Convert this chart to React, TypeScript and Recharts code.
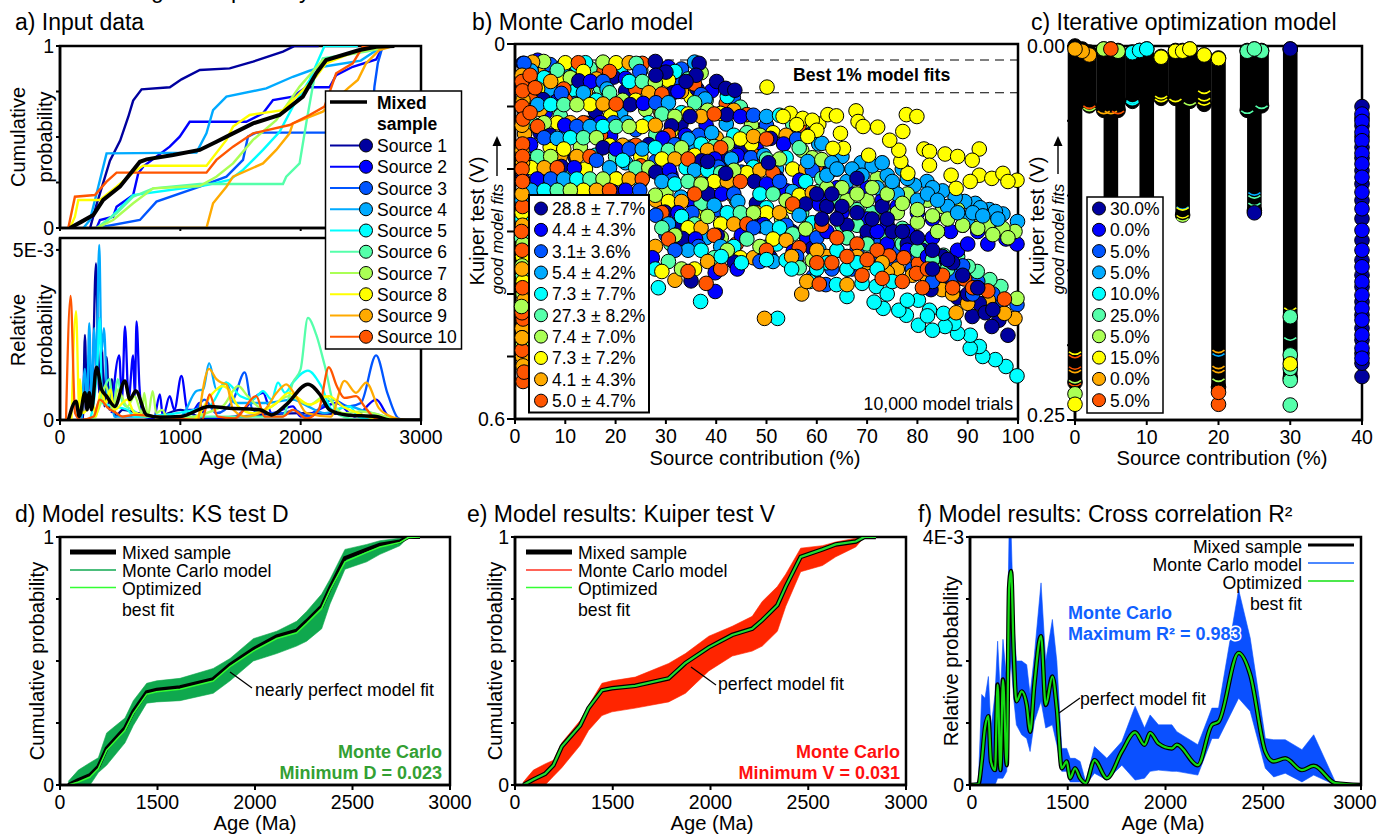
import React from 'react';
import {
  Area, ComposedChart, Line, ReferenceArea, ReferenceLine, Scatter, ScatterChart, XAxis, YAxis,
} from 'recharts';

const FONT = '"Liberation Sans", Arial, sans-serif';

const sourceColors = ['#00009f', '#0000ff', '#0055ff', '#00aaff', '#00ffff', '#55ffaa', '#aaff55', '#ffff00', '#ffaa00', '#ff5500'];
const sourceNames = ['Source 1', 'Source 2', 'Source 3', 'Source 4', 'Source 5', 'Source 6', 'Source 7', 'Source 8', 'Source 9', 'Source 10'];
const mcLegend = ['28.8 ± 7.7%', '4.4 ± 4.3%', '3.1± 3.6%', '5.4 ± 4.2%', '7.3 ± 7.7%', '27.3 ± 8.2%', '7.4 ± 7.0%', '7.3 ± 7.2%', '4.1 ± 4.3%', '5.0 ± 4.7%'];
const optLegend = ['30.0%', '0.0%', '5.0%', '5.0%', '10.0%', '25.0%', '5.0%', '15.0%', '0.0%', '5.0%'];

// a) cumulative curves [age, probability]
const cum1 = [[250,0],[300,.12],[415,.37],[500,.48],[567,.61],[608,.7],[678,.762],[913,.773],[1010,.817],[1162,.868],[1410,.877],[1604,.914],[1853,.969],[1950,1],[2150,1]];
const cum2 = [[304,0],[332,.044],[442,.062],[470,.117],[608,.181],[650,.3],[691,.337],[912,.447],[995,.502],[1078,.584],[1548,.584],[1687,.63],[1770,.703],[1935,.722],[2046,.773],[2240,.773],[2295,.84],[2433,.886],[2627,.926],[2682,.996],[2765,1]];
const cum3 = [[304,0],[664,.044],[802,.145],[1161,.227],[1383,.282],[1521,.374],[1562,.502],[1631,.524],[2585,.524],[2613,.777],[2641,.905],[2682,1],[2765,1]];
const cum4 = [[194,0],[249,.044],[318,.227],[387,.41],[1134,.414],[1217,.52],[1272,.648],[1383,.722],[1714,.767],[1935,.831],[2074,.864],[2184,.886],[2500,.92],[2682,1],[2765,1]];
const cum5 = [[332,0],[608,.181],[1217,.236],[1410,.264],[1521,.319],[1687,.429],[1825,.529],[1935,.667],[2074,.813],[2198,1],[2475,1]];
const cum6 = [[304,0],[470,.081],[608,.172],[774,.218],[1161,.242],[1853,.242],[1880,.282],[1991,.355],[2046,.575],[2115,.832],[2184,.932],[2544,.969],[2765,1]];
const cum7 = [[304,0],[442,.044],[608,.136],[774,.218],[1161,.231],[1299,.282],[1438,.355],[1604,.484],[1797,.593],[1991,.777],[2184,.923],[2544,.974],[2765,1]];
const cum8 = [[83,0],[124,.062],[152,.154],[332,.154],[470,.227],[636,.319],[691,.342],[1217,.342],[1383,.484],[1438,.557],[1576,.621],[1853,.648],[1963,.722],[2129,.832],[2212,.905],[2516,.987],[2765,1]];
const cum9 = [[300,0],[1217,0],[1272,.136],[1383,.227],[1438,.282],[1687,.355],[1797,.429],[1908,.52],[1935,.575],[2184,.639],[2392,.767],[2475,.813],[2544,.905],[2654,.978],[2765,1]];
const cum10 = [[69,0],[124,.172],[290,.181],[387,.255],[470,.304],[1217,.304],[1300,.374],[1438,.447],[1604,.52],[1908,.566],[2074,.621],[2198,.667],[2295,.85],[2433,.905],[2516,.996],[2765,1]];
const cumMixed = [[83,0],[180,.035],[277,.071],[359,.154],[498,.227],[664,.364],[719,.377],[940,.401],[1161,.429],[1300,.474],[1438,.52],[1604,.575],[1825,.621],[2018,.722],[2129,.85],[2212,.923],[2489,.978],[2627,.996],[2779,1]];

// a) relative probability [age, value in 1E-3]
const rel1 = [[150,0],[190,0],[207,2.5],[225,.3],[243,2],[262,.3],[299,4.6],[325,.8],[345,2.2],[370,.4],[387,1.85],[410,.3],[430,1.2],[460,.1],[520,.3],[650,.2],[800,.1],[1000,.3],[1200,.05],[2000,.2],[2600,.1],[2800,0]];
const rel2 = [[430,.2],[492,1.9],[515,.6],[540,2.75],[570,.6],[608,1.9],[622,.7],[636,2.9],[660,1],[690,.1],[780,.05],[830,.75],[855,.1],[912,.7],[950,.3],[1009,1.3],[1060,.3],[1110,.3],[1160,.5],[1210,.05],[1450,.1],[1687,.8],[1760,.2],[1935,.4],[2000,.1],[2300,.5],[2450,.1],[2627,.6],[2730,.1],[2800,0]];
const rel3 = [[1000,0],[1060,.3],[1100,.2],[1200,.6],[1300,.2],[1440,.6],[1535,1.4],[1600,.3],[1700,.2],[1850,.2],[1950,.3],[2050,.1],[2267,.6],[2400,.4],[2500,.5],[2627,1.9],[2720,.8],[2810,.05],[2850,0]];
const rel4 = [[180,0],[207,1.5],[225,.4],[243,2.85],[262,.7],[285,2.7],[300,1.4],[326,5.15],[345,2],[365,2.7],[395,.6],[420,1],[450,.1],[1000,.1],[1134,.85],[1190,.9],[1239,1.67],[1300,.9],[1383,1.1],[1450,.5],[1700,.5],[1935,.6],[2060,.4],[2200,.2],[2405,.4],[2500,.3],[2700,.1],[2800,0]];
const rel5 = [[250,0],[310,1.6],[330,3],[350,.5],[450,.4],[560,.3],[620,.1],[1239,.4],[1383,1.1],[1500,.7],[1600,.6],[1687,.85],[1760,.6],[1811,1.1],[1870,.8],[1935,1.1],[2060,1.45],[2170,1],[2265,.3],[2405,.4],[2480,.1],[2600,0]];
const rel6 = [[270,0],[330,.6],[415,1.2],[440,.3],[480,1.2],[520,.5],[600,.3],[700,.1],[1850,.1],[1935,1.1],[2000,1.5],[2060,3],[2130,2.5],[2200,1.6],[2300,.2],[2400,.05],[2500,0]];
const rel7 = [[280,0],[340,.5],[380,1],[440,.3],[480,.9],[560,.4],[620,.7],[680,.2],[700,.8],[730,.1],[770,.85],[800,.2],[850,.3],[900,0],[1350,.4],[1480,1],[1560,.7],[1700,.3],[1900,.7],[2074,.45],[2200,.7],[2350,.2],[2500,.25],[2600,.2],[2700,.1],[2800,0]];
const rel8 = [[95,0],[133,3.2],[160,.3],[166,1.2],[190,.2],[270,.5],[300,.1],[340,.9],[380,.5],[420,.9],[450,.3],[560,.6],[620,.2],[1100,0],[1272,.8],[1350,1],[1400,.9],[1480,.4],[1600,.2],[1800,.5],[1900,.8],[2074,.45],[2234,.7],[2350,.4],[2480,.2],[2600,.05],[2700,0]];
const rel9 = [[1150,0],[1239,1.5],[1300,1.2],[1340,1.1],[1383,1.05],[1440,.3],[1550,.1],[1700,.3],[1800,.8],[1880,1.05],[1960,.7],[2050,.2],[2250,.1],[2364,1.15],[2460,.8],[2544,1.1],[2650,.35],[2750,.1],[2870,0]];
const rel10 = [[50,0],[88,3.65],[125,.2],[170,0],[280,.1],[330,.6],[400,.35],[470,.2],[520,.1],[620,.15],[1180,0],[1244,.75],[1310,.1],[1450,.05],[1631,.7],[1700,.1],[1850,.1],[1935,.3],[2050,.05],[2150,.3],[2234,1.55],[2300,1],[2364,.65],[2461,.7],[2530,.4],[2620,.05],[2700,0]];
const relMixed = [[70,0],[133,.55],[160,.1],[207,.8],[225,.3],[243,.8],[262,.3],[304,1.55],[345,.9],[387,.7],[456,.4],[539,1.15],[580,.6],[630,.85],[719,.15],[830,.08],[1000,.1],[1244,.4],[1383,.35],[1660,.3],[1760,.15],[1880,.45],[2060,1.05],[2160,.75],[2240,.3],[2380,.15],[2627,.1],[2740,0],[3000,0]];

// b) Monte Carlo trials [contribution %, Kuiper V]
const mc1 = [[8,.045],[22,.075],[16,.108],[33,.128],[5,.142],[45,.165],[12,.182],[26,.205],[38,.225],[48,.255],[33,.29],[55,.3],
  [1.6,.031],[27.9,.028],[19.6,.053],[12.7,.059],[36.2,.072],[5.6,.089],[31.4,.078],[22.9,.097],[14.4,.127],[42.1,.113],[7,.146],[31.1,.131],[58.9,.144],[26.6,.161],[50.8,.151],[17.5,.166],[41.7,.183],[9.2,.196],[37.1,.187],[1.5,.216],[28,.205],[52.1,.214],[19.4,.236],[47.6,.22],[38.4,.24],[29.8,.269],[57.8,.256],[48.7,.291],[40.2,.306],[33.3,.311],[59.1,.327],[50.7,.341],[43.6,.349],[35,.379],
  [36.6,.031],[36,.05],[30,.045],[28,.05],[34,.06],[40.1,.06],[41.9,.071],[43.7,.074],[34.8,.116],[50.4,.19],[41.9,.207],[38.3,.188],[62.5,.204],
  [98,.466],[96.2,.442],[94.8,.452],[92.3,.415],[90.9,.436],[88,.406],[82.7,.393],[90,.4],[93.5,.43],[86,.37],[85,.34],[81,.33],[78,.32],[75,.3],[70,.3],[66,.29],[62,.26],[73,.26],[68,.215],[87,.35],[83,.36],
  [60,.24],[63,.24],[65,.26],[68,.27],[71,.28],[74,.28],[77,.3],[80,.31],[83,.33],[86,.345],[89,.37],[92,.39],[95,.425],[61,.28],[64,.28]];
const mc2 = [[12,.04],[28,.073],[6,.11],[38,.13],[19,.147],[48,.168],[7,.185],[31,.21],[54,.235],[35,.25],[44,.285],[58,.31],
  [4.5,.026],[30.5,.037],[22,.055],[15,.06],[39.1,.075],[8.4,.091],[32.4,.076],[25.5,.095],[17,.126],[44.8,.116],[9.9,.13],[33.9,.146],[3.1,.161],[29.4,.151],[53.4,.16],[20.1,.168],[44.2,.178],[11.8,.198],[39.7,.184],[4.4,.216],[30.7,.202],[56.6,.218],[22,.234],[50,.224],[41.1,.24],[32.4,.27],[60.5,.256],[49.4,.289],[45,.306],[35.9,.312],[27.3,.342],[55.3,.332],[44.2,.36],[39.8,.366],
  [99.8,.32],[97.6,.312],[95.1,.301],[86.6,.3],[92,.3],[89,.29],[83,.28],[80,.27],[76,.26],[73,.25],[70,.23],[67,.24],[64,.23],[61,.24],[78,.3],[74,.29],[70,.28],[65,.27],[83,.31],[88,.33],[39.8,.396],
  [62,.3],[66,.31],[70,.31],[74,.32],[78,.33],[82,.34],[86,.35],[72,.3],[90,.32],[94,.32]];
const mc3 = [[15,.043],[33,.065],[12,.095],[24,.137],[50,.13],[3,.172],[28,.188],[45,.205],[16,.222],[40,.265],[30,.305],[50,.325],
  [7,.033],[33.1,.04],[24.8,.044],[17.5,.06],[43.4,.086],[9.2,.079],[37,.081],[1.9,.107],[28,.094],[19.6,.126],[47.4,.114],[12.3,.132],[36.5,.146],[5.8,.15],[31.8,.161],[56,.152],[22.7,.168],[46.9,.182],[16.2,.186],[40.4,.197],[7.1,.216],[31.3,.218],[59.1,.202],[24.8,.234],[52.6,.22],[43.5,.24],[35.2,.27],[1.7,.288],[28,.274],[53.9,.29],[47.4,.294],[36.5,.324],[31.8,.33],[56,.34],[48.7,.348],[1.8,.031],
  [99.8,.417],[97,.41],[95,.4],[92,.38],[89,.375],[86,.385],[83,.345],[80,.34],[76,.33],[72,.32],[68,.33],[64,.33],[60,.31],[59.3,.372],[61.8,.385],[89,.355],
  [63,.36],[67,.36],[71,.35],[75,.35],[79,.36],[83,.38],[87,.37],[91,.4]];
const mc4 = [[18,.04],[7,.072],[21,.11],[42,.128],[10,.145],[36,.165],[22,.19],[52,.2],[12,.24],[33,.245],[46,.275],[38,.31],
  [9.7,.034],[35.7,.029],[3.2,.043],[29.2,.055],[18.3,.072],[13.6,.078],[37.8,.088],[4.5,.097],[30.5,.094],[22.2,.126],[50,.116],[14.9,.132],[39.1,.142],[8.4,.151],[34.4,.152],[60.4,.16],[25.3,.168],[49.5,.178],[18.8,.198],[43,.184],[9.7,.216],[35.7,.202],[3.2,.234],[29.2,.22],[55.2,.236],[44.3,.252],[39.6,.258],[30.5,.288],[56.5,.274],[50,.294],[40.9,.324],[34.4,.33],[60.4,.328],[51.3,.348],[1.4,.25],
  [99.9,.284],[94.3,.265],[91.5,.255],[89.4,.252],[81.9,.22],[79.4,.226],[68.8,.19],[61,.159],[58.2,.188],[97,.272],[95.5,.268],[92.5,.262],[87.5,.245],[85,.235],[83,.23],[77,.2],[74,.21],[71,.195],[65,.18],[63,.19],[76,.24],[72,.23],[66,.22],[86,.26],[80,.25],[90,.28],
  [62,.21],[64,.2],[67,.2],[69,.21],[73,.19],[75,.22],[78,.215],[82,.24],[84,.25],[88,.27],[91,.27],[93,.275],[96,.28]];
const mc5 = [[21,.045],[12,.075],[30,.105],[4,.13],[47,.15],[16,.178],[34,.198],[6,.225],[25,.22],[50,.262],[35,.295],[52,.32],
  [12.3,.034],[14,.03],[5.8,.054],[31.8,.044],[22.7,.06],[16.2,.09],[42.2,.084],[7.1,.097],[33.1,.11],[26.6,.126],[52.6,.114],[17.5,.132],[43.5,.146],[11,.15],[37,.16],[1.9,.18],[27.9,.166],[53.9,.182],[21.4,.186],[47.4,.197],[12.3,.216],[38.3,.202],[5.8,.234],[31.8,.224],[57.8,.22],[48.7,.24],[42.2,.27],[33.1,.276],[59.1,.286],[52.6,.294],[43.5,.324],[37,.33],[27.9,.36],[53.9,.346],[1.4,.28],
  [99.8,.531],[97.6,.516],[95.5,.505],[93,.5],[92.3,.484],[90.5,.487],[90.5,.466],[88,.463],[87.3,.447],[85.5,.452],[83,.458],[85.2,.431],[82.4,.426],[80.2,.45],[80.2,.41],[77.8,.434],[76.3,.426],[73.2,.423],[71.4,.413],[71.8,.388],[69,.383],[66,.404],[63.9,.385],[58.6,.38],[52.2,.439],[36.9,.412],[28.5,.39],[62,.35],[60,.36],[66,.36],[64,.33],[74,.4],[78,.41],[82,.435],[75,.38],[72,.36],[68,.35],[55,.36],[50,.345],[45,.35],[41,.34]];
const mc6 = [[25,.042],[17,.07],[38,.09],[9,.115],[28,.145],[53,.15],[20,.18],[43,.195],[11,.21],[37,.255],[57,.27],[31,.32],
  [14.9,.039],[24.1,.031],[8.4,.042],[34.4,.056],[25.3,.06],[18.8,.078],[44.8,.101],[9.7,.097],[35.7,.094],[3.2,.126],[29.2,.112],[55.2,.128],[20.1,.132],[46.1,.142],[13.6,.15],[39.6,.164],[4.5,.18],[30.5,.17],[56.5,.166],[24,.198],[50,.184],[14.9,.216],[40.9,.206],[8.4,.234],[34.4,.22],[60.4,.236],[51.3,.24],[44.8,.27],[35.7,.288],[29.2,.294],[55.2,.304],[46.1,.312],[39.6,.342],[30.5,.348],[56.5,.358],[1.5,.37],[1.3,.31],
  [96.6,.388],[94.4,.377],[91.9,.364],[90.1,.356],[88,.34],[85.2,.338],[82,.325],[79.8,.31],[84.5,.36],[77,.295],[74,.275],[71,.27],[68,.265],[64,.25],[61,.215],[75,.31],
  [62,.26],[65,.29],[68,.29],[71,.3],[74,.31],[77,.32],[80,.33],[83,.345],[86,.36],[66,.31],[70,.32]];
const mc7 = [[29,.04],[3,.055],[26,.105],[47,.13],[13,.165],[39,.17],[57,.17],[4,.2],[30,.238],[44,.25],[53,.28],[41,.31],
  [17.5,.029],[5.7,.028],[11,.054],[37,.046],[1.9,.072],[27.9,.062],[21.4,.09],[12.3,.097],[38.3,.106],[5.8,.126],[31.8,.116],[57.8,.124],[22.7,.132],[48.7,.146],[16.2,.15],[42.2,.16],[7.1,.18],[33.1,.166],[59.1,.182],[26.6,.198],[52.6,.184],[17.5,.216],[43.5,.202],[11,.234],[37,.224],[1.9,.252],[27.9,.242],[53.9,.25],[47.4,.27],[38.3,.276],[31.8,.306],[57.8,.296],[48.7,.324],[42.2,.33],[33.1,.36],[59.1,.346],
  [1.5,.483],[1.6,.4],[1.4,.355],[1.6,.32],[1.3,.42],
  [99.4,.3],[97,.295],[94,.29],[91,.28],[88,.265],[85,.26],[82,.25],[78,.24],[75,.225],[72,.215],[68,.21],[64,.2],[61,.185],[99.8,.407],[84,.3],[80,.285],[76,.27],[70,.25],[66,.25],
  [62,.23],[65,.23],[68,.24],[71,.23],[74,.24],[77,.255],[80,.265],[83,.275],[86,.28],[89,.29],[92,.295],[95,.305],[98,.31]];
const mc8 = [[32,.045],[9,.055],[35,.085],[19,.115],[31,.14],[7,.165],[25,.18],[47,.16],[14,.2],[55,.26],[36,.275],[46,.305],
  [20.1,.03],[10,.03],[13.6,.044],[4.5,.072],[30.5,.058],[24,.09],[14.9,.097],[40.9,.111],[8.4,.126],[34.4,.112],[60.4,.128],[25.3,.132],[51.3,.142],[18.8,.162],[44.8,.152],[9.7,.168],[35.7,.178],[3.2,.198],[29.2,.184],[55.2,.2],[20.1,.216],[46.1,.206],[13.6,.234],[39.6,.22],[30.5,.252],[56.5,.242],[50,.27],[40.9,.288],[34.4,.294],[60.4,.304],[51.3,.312],[44.8,.342],[35.7,.36],[29.2,.364],
  [1.5,.44],[1.6,.38],[1.5,.34],[1.4,.27],[1.4,.47],
  [50.1,.069],[54.7,.111],[53.3,.116],[57.2,.119],[62.2,.113],[63.9,.115],[59.1,.122],[67.8,.107],[68.2,.124],[72.1,.133],[77.8,.113],[79.9,.116],[77.1,.14],[69.2,.132],[92.3,.168],[81.3,.168],[82.4,.172],[85.5,.176],[88,.18],[90.9,.186],[82.4,.194],[86.7,.21],[92.3,.21],[87.7,.231],[90.5,.22],[94.8,.215],[97,.207],[99.8,.218],[98,.22],[78.1,.207],[76.7,.188],[76.3,.17],[74.5,.154],[70.3,.178],[65.3,.167],[63.2,.167],[60,.138],[56,.129],[58.2,.148],[64.7,.143]];
const mc9 = [[6,.04],[14,.078],[29,.11],[5,.105],[40,.15],[23,.165],[9,.18],[36,.205],[20,.215],[28,.25],[48,.27],[56,.345],
  [22.7,.03],[3.5,.029],[16.2,.056],[7.1,.06],[33.1,.076],[26.6,.078],[17.5,.096],[43.5,.106],[11,.126],[37,.116],[1.9,.144],[27.9,.13],[53.9,.146],[21.4,.162],[47.4,.148],[12.3,.18],[38.3,.17],[5.8,.198],[31.8,.184],[57.8,.2],[22.7,.216],[48.7,.202],[16.2,.234],[42.2,.22],[33.1,.252],[59.1,.238],[52.6,.27],[43.5,.288],[37,.294],[27.9,.324],[53.9,.314],[47.4,.342],[38.3,.348],[31.8,.378],
  [1.5,.5],[1.6,.515],[1.4,.455],[1.8,.41],[1.4,.47],[1.4,.36],[1.5,.29],[1.4,.05],[1.6,.09],[1.4,.13],[1.4,.17],[1.5,.19],[1.4,.24],
  [99.4,.439],[97.3,.431],[94.1,.41],[87.7,.43],[84.9,.393],[92,.39],[90,.415],[87,.4],[82,.375],[79,.37],[76,.36],[74,.365],[70,.35],[66,.36],[62,.34],[60,.33],[57,.4],[58,.38],[55,.34],[49.6,.439],[66,.385],[73,.35],[68,.34]];
const mc10 = [[17,.042],[24,.072],[10,.09],[42,.095],[17,.145],[33,.16],[48,.18],[25,.195],[43,.24],[33,.28],[58,.295],[44,.32],
  [25.3,.031],[12.6,.03],[18.8,.044],[9.7,.072],[35.7,.064],[3.2,.09],[29.2,.08],[20.1,.096],[46.1,.113],[13.6,.126],[39.6,.112],[4.5,.132],[30.5,.146],[56.5,.13],[24,.162],[50,.152],[14.9,.18],[40.9,.166],[8.4,.198],[34.4,.184],[60.4,.2],[25.3,.216],[51.3,.206],[18.8,.234],[44.8,.22],[35.7,.24],[29.2,.27],[55.2,.256],[46.1,.288],[39.6,.306],[30.5,.312],[56.5,.326],[50,.33],[40.9,.36],[34.4,.364],
  [1.6,.54],[1.8,.525],[1.4,.49],[1.6,.44],[1.4,.43],[1.5,.39],[1.4,.33],[1.3,.3],[1.5,.26],[1.4,.06],[1.5,.075],[1.4,.1],[1.6,.12],[1.5,.16],[1.5,.18],[1.4,.2],[1.5,.22],[3,.05],[4,.07],[3,.11],
  [97.3,.408],[94,.395],[89.4,.376],[80.2,.351],[79.8,.367],[74.4,.339],[77.3,.342],[85,.37],[82,.36],[72,.33],[68,.32],[64,.31],[60.5,.384],[61,.29],[38,.383],[91,.39],[70,.345],
  [60,.35],[63,.35],[66,.34],[69,.37],[73,.375],[77,.38],[81,.39],[87,.39]];
const mcAll = [mc1, mc2, mc3, mc4, mc5, mc6, mc7, mc8, mc9, mc10];

// c) stacks of overlapped trials at each tested contribution: [contribution %, best V, worst V]
const optStacks = [[0,0,.225],[1,.002,.036],[2,.004,.04],[4,.002,.043],[5,.002,.13],[6,.003,.043],[8,.004,.037],[9,.003,.03],[10,.002,.13],[12,.007,.035],[14,.003,.035],[15,.003,.113],[16,.002,.037],[18,.006,.039],[20,.008,.228],[24,.003,.043],[25,.002,.11],[26,.003,.04],[30,.002,.222]];
const opt1 = [[30,.002],[40,.0405],[40,.221],[40,.0482],[40,.0533],[40,.0606],[40,.0677],[40,.0748],[40,.0833],[40,.0921],[40,.1032],[40,.1154],[40,.1299],[40,.1432],[40,.1532],[40,.161],[40,.1709],[40,.1798],[40,.1887],[40,.1965],[40,.2054],[40,.212],[25,.1115]];
const opt2 = [[40,.0455],[40,.0504],[40,.0577],[40,.0633],[40,.0717],[40,.0788],[40,.0877],[40,.0977],[40,.1088],[40,.1232],[40,.1365],[40,.1476],[40,.1576],[40,.1665],[40,.1754],[40,.1832],[40,.1931],[40,.202],[40,.2087]];
const opt5 = [[8,.0045],[9,.003],[10,.002]];
const opt6 = [[24,.0035],[26,.0035],[25,.002],[30,.24],[30,.2235],[30,.2155],[30,.2065],[30,.181]];
const opt7 = [[4,.002],[6,.0035],[0,.2325]];
const opt8 = [[12,.0075],[14,.0035],[15,.0035],[16,.002],[18,.006],[20,.0085],[0,.2395],[30,.2125]];
const opt9 = [[2,.006],[1,.0035],[0,.002]];
const opt10 = [[5,.002],[20,.2395],[20,.2315]];
const optDiscs = [opt1, opt2, [], [], opt5, opt6, opt7, opt8, opt9, opt10];
// thin rims of discs showing from under the black stacks
const rim1 = [[25,.1115]];
const rim4 = [[20,.2056],[15,.1075],[25,.098]];
const rim5 = [[8,.0375],[8,.0365]];
const rim6 = [[25,.1],[25,.105],[24,.0433],[26,.04],[30,.195]];
const rim7 = [[0,.2235],[20,.2225],[15,.1154],[2,.0415],[16,.0378]];
const rim8 = [[0,.2044],[30,.175],[15,.108],[15,.1133],[12,.0355],[12,.0335],[14,.0355],[18,.0378],[18,.035],[18,.03]];
const rim9 = [[0,.2167],[20,.2033],[20,.214],[20,.2167],[5,.0435],[4,.0435]];
const rim10 = [[0,.2067],[0,.2144],[0,.2256],[2,.04],[6,.0435]];
const optRims = [rim1, [], [], rim4, rim5, rim6, rim7, rim8, rim9, rim10];

// d, e) axis runs on evenly spaced ticks printed 0, 1500, 2000, 2500, 3000, so x is read as tick position
const cdfPos = [64,141,231,295,359,500,564,667,744,923,1179,1308,1487,1667,1820,1897,2013,2077,2192,2359,2461,2615,2680,2769];
const ksMixed = [0,.02,.04,.074,.148,.229,.296,.374,.384,.394,.427,.485,.548,.599,.622,.66,.72,.794,.915,.949,.969,.982,1,1];
const ksOptimized = [0,.012,.032,.066,.14,.221,.288,.366,.376,.386,.419,.477,.54,.591,.614,.652,.712,.786,.9,.938,.96,.978,.998,1];
const ksLow = [0,0,0,.05,.08,.17,.24,.33,.335,.34,.37,.42,.5,.53,.56,.58,.63,.73,.87,.9,.93,.965,1,1];
const ksHigh = [.015,.06,.09,.11,.21,.27,.34,.41,.42,.43,.47,.51,.59,.62,.66,.7,.77,.83,.95,.97,.985,.995,1,1];
const kuMixed = [0,.022,.045,.08,.155,.24,.31,.382,.39,.4,.43,.492,.555,.605,.63,.665,.725,.8,.92,.95,.97,.982,1,1];
const kuLow = [0,0,0,.035,.07,.16,.22,.28,.295,.31,.335,.37,.46,.52,.54,.56,.62,.72,.86,.885,.92,.96,1,1];
const kuHigh = [.012,.06,.085,.1,.17,.26,.32,.41,.42,.435,.49,.53,.6,.64,.68,.74,.8,.85,.955,.965,.98,.995,1,1];

// f) values in 1E-3
const pdfPos = [0,64,90,115,141,161,192,212,233,253,282,300,315,335,356,397,435,461,494,545,581,632,666,704,742,768,806,845,888,955,1050,1165,1267,1339,1382,1446,1549,1587,1748,1856,1907,2061,2150,2266,2330,2419,2547,2637,2803,3000];
const ccMixed = [0,.01,.38,.92,1.11,.38,.24,1.62,.24,1.7,.32,3.18,3.45,2.16,1.35,1.51,1.29,.86,1.62,2.4,1.29,1.75,1.24,.27,.38,.11,.27,.11,.03,.4,.11,.54,.85,.65,.84,.67,.59,.65,.32,.97,1.02,2.13,1.78,.54,.38,.43,.24,.31,.03,0];
const ccLow = [0,0,0,0,0,0,0,.11,.11,.11,.22,1.67,2,1.4,.97,.81,.75,.54,1.02,1.35,.92,.97,.65,.22,.22,.05,.05,.05,0,.19,.08,.32,.08,.11,.22,.24,.22,.22,.16,.75,.75,1.4,1.19,.27,.13,.19,.05,.16,0,0];
const ccHigh = [0,.05,1.46,1.4,1.75,.92,1.46,2.32,1.46,2.35,1.67,4.1,4.1,2.64,2,2,1.94,1.46,2.1,3.26,2,2.67,2,.59,.59,.43,.43,.38,.05,.62,.43,.7,1.27,.92,1.13,.97,.97,.86,.65,1.24,1.24,3.15,2.37,.75,.73,.73,.57,.81,.05,0];

const cumSeries = [cum1, cum2, cum3, cum4, cum5, cum6, cum7, cum8, cum9, cum10];
const relSeries = [rel1, rel2, rel3, rel4, rel5, rel6, rel7, rel8, rel9, rel10];

const pairs = (list: number[][]) => list.map(([x, y]) => ({ x, y }));

const bandRows = (pos: number[], low: number[], high: number[], mixed: number[], optimized: number[]) =>
  pos.map((x, i) => ({ x, band: [low[i], high[i]], mixed: mixed[i], optimized: optimized[i] }));

// trials are interleaved, the original drew them in trial order and not source by source
const mcTable = (() => {
  const rows: any[] = [];
  const longest = Math.max(...mcAll.map((s) => s.length));
  for (let i = 0; i < longest; i++) {
    mcAll.forEach((s, k) => {
      if (s[i]) rows.push({ x: s[i][0], y: s[i][1], color: sourceColors[k] });
    });
  }
  return rows;
})();

const Disc = (r: number) => (props: any) => {
  const { cx, cy, payload } = props;
  return <circle cx={cx} cy={cy} r={r} fill={payload.color} stroke="#000" strokeWidth={1} />;
};
const Rim = (props: any) => {
  const { cx, cy, payload } = props;
  return <path d={`M${cx - 6} ${cy}Q${cx} ${cy + 5} ${cx + 6} ${cy}`} fill="none" stroke={payload.color} strokeWidth={1.6} />;
};

const tickStyle = { fontFamily: FONT, fontSize: 19.5, fill: '#000' };
const axisLine = { stroke: '#000', strokeWidth: 2.5 };
const tickLine = { stroke: '#000', strokeWidth: 2 };

const Box = ({ left, top, children }: any) => (
  <div style={{ position: 'absolute', left: left - 60, top: top - 12 }}>{children}</div>
);

const size = (left: number, right: number, top: number, bottom: number) => ({
  width: right - left + 60 + 22,
  height: bottom - top + 12 + 50,
  margin: { top: 12, right: 22, left: 0, bottom: 0 },
});

const xAxis = (domain: number[], ticks: number[], fmt: (v: number) => string, extra: any = {}) => (
  <XAxis type="number" dataKey="x" domain={domain} ticks={ticks} tickFormatter={fmt} interval={0} height={50}
    axisLine={axisLine} tickLine={tickLine} tickSize={5} tickMargin={5} tick={tickStyle} allowDataOverflow {...extra} />
);
const yAxis = (domain: number[], ticks: number[], fmt: (v: number) => string, extra: any = {}) => (
  <YAxis type="number" domain={domain} ticks={ticks} tickFormatter={fmt} interval={0} width={60}
    axisLine={axisLine} tickLine={tickLine} tickSize={4} tickMargin={2} tick={tickStyle} allowDataOverflow {...extra} />
);
const frame = (domainX: number[], domainY: number[]) => (
  <ReferenceArea x1={domainX[0]} x2={domainX[1]} y1={domainY[0]} y2={domainY[1]} fill="none" stroke="#000" strokeWidth={2.5} ifOverflow="visible" />
);

// tick labels nudged away from their tick, as printed
const XTickShifted = (props: any) => {
  const { x, y, payload } = props;
  const shift = payload.value === 3000 ? -6 : payload.value === 0 ? 2 : 0;
  return <text x={x + shift} y={y} dy="0.71em" textAnchor="middle" {...tickStyle}>{cdfLabel(payload.value)}</text>;
};
const YTickRaised = (props: any) => {
  const { x, y, payload } = props;
  const label = payload.value === 0 ? '0.00' : payload.value === .25 ? '0.25' : '';
  return <text x={x} y={payload.value === .25 ? y - 5 : y} dy="0.355em" textAnchor="end" {...tickStyle}>{label}</text>;
};

const T = ({ x, y, size: s = 17.7, anchor = 'start', bold, italic, fill = '#000', rotate, children }: any) => (
  <text x={x} y={y} fontFamily={FONT} fontSize={s} textAnchor={anchor} fontWeight={bold ? 700 : 400} fontStyle={italic ? 'italic' : 'normal'} fill={fill}
    transform={rotate ? `rotate(-90 ${x} ${y})` : undefined}>
    {children}
  </text>
);

const Overlay = () => (
  <svg width={1379} height={835} style={{ position: 'absolute', left: 0, top: 0, pointerEvents: 'none' }}>
    <T x={151} y={-2} size={23}>g</T>
    <T x={231} y={-2} size={23}>p</T>
    <T x={299} y={-2} size={23}>y</T>

    <T x={15} y={30} size={23}>a) Input data</T>
    <T x={472} y={30} size={23}>b) Monte Carlo model</T>
    <T x={1031} y={30} size={23}>c) Iterative optimization model</T>
    <T x={15} y={522} size={23}>d) Model results: KS test D</T>
    <T x={467} y={522} size={23}>e) Model results: Kuiper test V</T>
    <T x={918} y={522} size={23}>f) Model results: Cross correlation R²</T>

    <T x={25} y={137} size={20} anchor="middle" rotate>Cumulative</T>
    <T x={52} y={137} size={20} anchor="middle" rotate>probability</T>
    <T x={25} y={330} size={20} anchor="middle" rotate>Relative</T>
    <T x={52} y={330} size={20} anchor="middle" rotate>probability</T>
    <T x={241} y={465} size={20.2} anchor="middle">Age (Ma)</T>
    <T x={755} y={465} size={20.2} anchor="middle">Source contribution (%)</T>
    <T x={1222} y={465} size={20.2} anchor="middle">Source contribution (%)</T>
    <T x={255} y={830} size={20.2} anchor="middle">Age (Ma)</T>
    <T x={712} y={830} size={20.2} anchor="middle">Age (Ma)</T>
    <T x={1163} y={830} size={20.2} anchor="middle">Age (Ma)</T>
    <T x={44} y={661} size={20.2} anchor="middle" rotate>Cumulative probability</T>
    <T x={502} y={661} size={20.2} anchor="middle" rotate>Cumulative probability</T>
    <T x={958} y={661} size={20.2} anchor="middle" rotate>Relative probability</T>

    <T x={484} y={221} size={20.2} anchor="middle" rotate>Kuiper test (V)</T>
    <T x={503} y={239} size={16.3} anchor="middle" italic rotate>good model fits</T>
    <path d="M497 176V145" stroke="#000" strokeWidth={1.4} />
    <path d="M497 136l-4.5 10h9z" fill="#000" />
    <T x={1044} y={221} size={20.2} anchor="middle" rotate>Kuiper test (V)</T>
    <T x={1064} y={239} size={16.3} anchor="middle" italic rotate>good model fits</T>
    <path d="M1058 174V145" stroke="#000" strokeWidth={1.4} />
    <path d="M1058 136l-4.5 10h9z" fill="#000" />

    <T x={793} y={81} bold>Best 1% model fits</T>
    <T x={1013} y={410} anchor="end">10,000 model trials</T>

    <rect x={325.5} y={91} width={136} height={258} fill="#fff" stroke="#000" strokeWidth={1.5} />
    <line x1={330} x2={367} y1={102} y2={102} stroke="#000" strokeWidth={3.5} />
    <T x={377} y={109} size={17.5} bold>Mixed</T>
    <T x={377} y={130} size={17.5} bold>sample</T>
    {sourceNames.map((n, k) => {
      const y = 145.5 + k * 21.25;
      return (
        <g key={n}>
          <line x1={330} x2={362} y1={y} y2={y} stroke={sourceColors[k]} strokeWidth={2} />
          <circle cx={366} cy={y} r={6.5} fill={sourceColors[k]} stroke="#000" strokeWidth={1} />
          <T x={377} y={y + 6.5} size={17.5}>{n}</T>
        </g>
      );
    })}

    <rect x={529} y={195} width={120} height={217.5} fill="#fff" stroke="#000" strokeWidth={2} />
    {mcLegend.map((n, k) => {
      const y = 208.5 + k * 21.35;
      return (
        <g key={k}>
          <circle cx={541} cy={y} r={6.5} fill={sourceColors[k]} stroke="#000" strokeWidth={1} />
          <T x={552} y={y + 6.5} size={17.5}>{n}</T>
        </g>
      );
    })}

    <rect x={1087} y={197} width={76} height={216} fill="#fff" stroke="#000" strokeWidth={1.5} />
    {optLegend.map((n, k) => {
      const y = 208.5 + k * 21.3;
      return (
        <g key={k}>
          <circle cx={1099} cy={y} r={6.5} fill={sourceColors[k]} stroke="#000" strokeWidth={1} />
          <T x={1110} y={y + 6.5} size={17.5}>{n}</T>
        </g>
      );
    })}

    <line x1={70} x2={116} y1={552} y2={552} stroke="#000" strokeWidth={5} />
    <line x1={70} x2={116} y1={570} y2={570} stroke="#10a850" strokeWidth={1.5} />
    <line x1={70} x2={116} y1={587.5} y2={587.5} stroke="#33ff33" strokeWidth={1.5} />
    <T x={122} y={559}>Mixed sample</T>
    <T x={122} y={577}>Monte Carlo model</T>
    <T x={122} y={595}>Optimized</T>
    <T x={122} y={616}>best fit</T>
    <path d="M230 672L252 688" stroke="#000" strokeWidth={1.2} />
    <T x={255} y={696}>nearly perfect model fit</T>
    <T x={442} y={758} size={18} anchor="end" bold fill="#33a033">Monte Carlo</T>
    <T x={442} y={779} size={18} anchor="end" bold fill="#33a033">Minimum D = 0.023</T>

    <line x1={526} x2={572} y1={552} y2={552} stroke="#000" strokeWidth={5} />
    <line x1={526} x2={572} y1={570} y2={570} stroke="#ff3020" strokeWidth={1.5} />
    <line x1={526} x2={572} y1={587.5} y2={587.5} stroke="#33ff33" strokeWidth={1.5} />
    <T x={578} y={559}>Mixed sample</T>
    <T x={578} y={577}>Monte Carlo model</T>
    <T x={578} y={595}>Optimized</T>
    <T x={578} y={616}>best fit</T>
    <path d="M691 667L716 685" stroke="#000" strokeWidth={1.2} />
    <T x={718} y={690}>perfect model fit</T>
    <T x={900} y={758} size={18} anchor="end" bold fill="#ff1010">Monte Carlo</T>
    <T x={900} y={779} size={18} anchor="end" bold fill="#ff1010">Minimum V = 0.031</T>

    <line x1={1308} x2={1354} y1={545} y2={545} stroke="#000" strokeWidth={3} />
    <line x1={1308} x2={1354} y1={563} y2={563} stroke="#1060ff" strokeWidth={1.5} />
    <line x1={1308} x2={1354} y1={581} y2={581} stroke="#10e010" strokeWidth={1.5} />
    <T x={1302} y={553} anchor="end">Mixed sample</T>
    <T x={1302} y={571} anchor="end">Monte Carlo model</T>
    <T x={1302} y={589} anchor="end">Optimized</T>
    <T x={1302} y={610} anchor="end">best fit</T>
    <T x={1068} y={619} size={18} bold fill="#1060ff">Monte Carlo</T>
    <text x={1068} y={640} fontFamily={FONT} fontSize={18} fontWeight={700} fill="#1060ff">
      Maximum R² = <tspan stroke="#fff" strokeWidth={3} paintOrder="stroke">0.983</tspan>
    </text>
    <path d="M1059 713L1080 698" stroke="#000" strokeWidth={1.2} />
    <T x={1080} y={705}>perfect model fit</T>
  </svg>
);

const cdfDomain = [0, 3000];
const cdfTicks = [0, 750, 1500, 2250, 3000];
const printedAge = ['0', '1500', '2000', '2500', '3000'];
const cdfLabel = (v: number) => printedAge[cdfTicks.indexOf(v)];

const BandChart = ({ rows, fill, curve, lineWidth, optColor, optWidth, yDomain, yTicks, yFmt, plot, xExtra }: any) => {
  const [left, right, top, bottom] = plot;
  return (
    <Box left={left} top={top}>
      <ComposedChart {...size(left, right, top, bottom)} data={rows}>
        {xAxis(cdfDomain, cdfTicks, cdfLabel, xExtra)}
        {yAxis(yDomain, yTicks, yFmt)}
        <Area type="linear" dataKey="band" stroke={fill} strokeWidth={0.6} fill={fill} fillOpacity={1} dot={false} activeDot={false} isAnimationActive={false} />
        <Line type={curve} dataKey="mixed" stroke="#000" strokeWidth={lineWidth} dot={false} isAnimationActive={false} />
        <Line type={curve} dataKey="optimized" stroke={optColor} strokeWidth={optWidth} dot={false} isAnimationActive={false} />
        {frame(cdfDomain, yDomain)}
      </ComposedChart>
    </Box>
  );
};

export default function App() {
  const a1Y = [0, 1];
  const a2Y = [0, 5.35];
  const ageX = [0, 3000];
  const bY = [0, 0.6];
  const bX = [0, 100];
  const cY = [0, 0.25];
  const cX = [0, 40];
  const yFmtCum = (v: number) => (v === 0 ? '0' : v === 1 ? '1' : '');

  return (
    <div style={{ position: 'absolute', left: 0, top: 0, width: 1379, height: 835, overflow: 'hidden', background: '#fff' }}>
      <Box left={60} top={46}>
        <ComposedChart {...size(60, 421, 46, 228)}>
          {xAxis(ageX, [0, 1000, 2000, 3000], () => '', { tickSize: 3 })}
          {yAxis(a1Y, [0, .25, .5, .75, 1], yFmtCum, { dataKey: 'y' })}
          {cumSeries.map((s, k) => (
            <Line key={k} data={pairs(s)} dataKey="y" type="linear" stroke={sourceColors[k]} strokeWidth={2.4} dot={false} isAnimationActive={false} />
          ))}
          <Line data={pairs(cumMixed)} dataKey="y" type="linear" stroke="#000" strokeWidth={4} dot={false} isAnimationActive={false} />
          {frame(ageX, a1Y)}
        </ComposedChart>
      </Box>
      <Box left={60} top={238}>
        <ComposedChart {...size(60, 421, 238, 420)}>
          {xAxis(ageX, [0, 1000, 2000, 3000], (v) => String(v))}
          {yAxis(a2Y, [0, 5], (v) => (v === 5 ? '5E-3' : '0'), { dataKey: 'y' })}
          {relSeries.map((s, k) => (
            <Line key={k} data={pairs(s)} dataKey="y" type="monotone" stroke={sourceColors[k]} strokeWidth={2.3} dot={false} isAnimationActive={false} />
          ))}
          <Line data={pairs(relMixed)} dataKey="y" type="monotone" stroke="#000" strokeWidth={3.5} dot={false} isAnimationActive={false} />
          {frame(ageX, a2Y)}
        </ComposedChart>
      </Box>

      <Box left={515} top={44}>
        <ScatterChart {...size(515, 1018, 44, 419)}>
          {xAxis(bX, [0, 10, 20, 30, 40, 50, 60, 70, 80, 90, 100], (v) => String(v), { allowDataOverflow: false })}
          {yAxis(bY, [0, .1, .2, .3, .4, .5, .6], (v) => (v === 0 ? '0' : v === .6 ? '0.6' : ''), { dataKey: 'y', reversed: true, tickSize: 8, allowDataOverflow: false })}
          <ReferenceLine y={.0256} stroke="#000" strokeWidth={1} strokeDasharray="9 6" />
          <ReferenceLine y={.078} stroke="#000" strokeWidth={1} strokeDasharray="9 6" />
          <Scatter data={mcTable} shape={Disc(7.3)} isAnimationActive={false} />
          {frame(bX, bY)}
        </ScatterChart>
      </Box>

      <Box left={1075} top={46}>
        <ScatterChart {...size(1075, 1362, 46, 420)}>
          {xAxis(cX, [0, 10, 20, 30, 40], (v) => String(v), { allowDataOverflow: false })}
          {yAxis(cY, [0, .05, .1, .15, .2, .25], (v) => String(v), { dataKey: 'y', reversed: true, tickSize: 8, allowDataOverflow: false, tick: YTickRaised })}
          {frame(cX, cY)}
          {optStacks.map(([x, lo, hi]) => (
            <Scatter key={x} data={[{ x, y: lo, color: '#000' }, { x, y: hi, color: '#000' }]} line={{ stroke: '#000', strokeWidth: 14.6 }} shape={Disc(7.3)} isAnimationActive={false} />
          ))}
          {optRims.map((s, k) => (
            <Scatter key={k} data={s.map(([x, y]) => ({ x, y, color: sourceColors[k] }))} shape={Rim} isAnimationActive={false} />
          ))}
          {optDiscs.map((s, k) => (
            <Scatter key={k} data={s.map(([x, y]) => ({ x, y, color: sourceColors[k] }))} shape={Disc(7.3)} isAnimationActive={false} />
          ))}
        </ScatterChart>
      </Box>

      <BandChart plot={[60, 450, 537, 785]} rows={bandRows(cdfPos, ksLow, ksHigh, ksMixed, ksOptimized)} fill="#0fa84e" curve="linear" lineWidth={4} optColor="#33ff33" optWidth={1.6}
        yDomain={[0, 1]} yTicks={[0, .25, .5, .75, 1]} yFmt={yFmtCum} />
      <BandChart plot={[515, 906, 537, 785]} rows={bandRows(cdfPos, kuLow, kuHigh, kuMixed, kuMixed)} fill="#ff2500" curve="linear" lineWidth={4.5} optColor="#22dd33" optWidth={2.2}
        yDomain={[0, 1]} yTicks={[0, .25, .5, .75, 1]} yFmt={yFmtCum} />
      <BandChart plot={[970, 1361, 537, 785]} rows={bandRows(pdfPos, ccLow, ccHigh, ccMixed, ccMixed)} fill="#0a50ff" curve="monotone" lineWidth={4.5} optColor="#14dc14" optWidth={2.2}
        yDomain={[0, 4]} yTicks={[0, 1, 2, 3, 4]} yFmt={(v: number) => (v === 4 ? '4E-3' : v === 0 ? '0' : '')} xExtra={{ tick: XTickShifted }} />

      <Overlay />
    </div>
  );
}
